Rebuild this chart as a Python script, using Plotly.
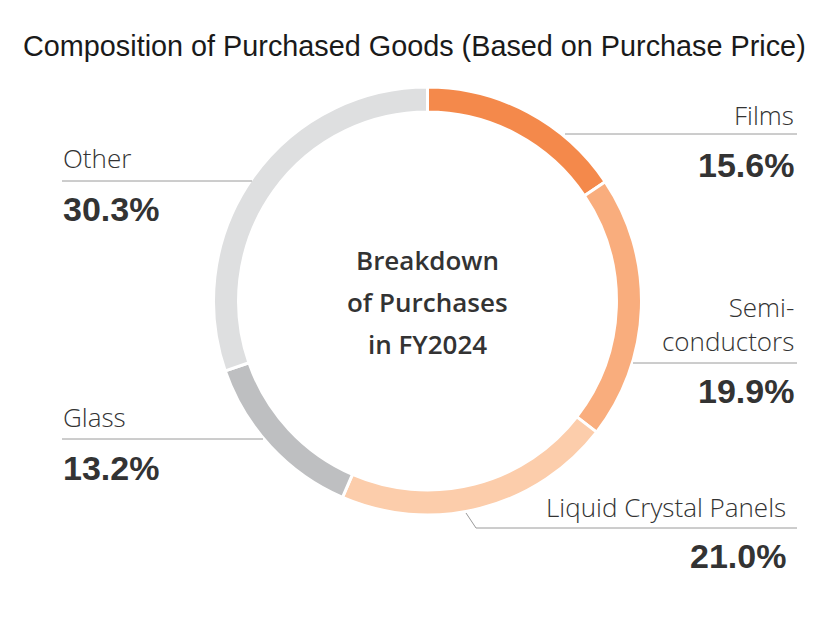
import plotly.graph_objects as go

# Purchase composition, FY2024 (clockwise from 12 o'clock)
categories = ["Films", "Semi-<br>conductors", "Liquid Crystal Panels", "Glass", "Other"]
shares = [15.6, 19.9, 21.0, 13.2, 30.3]
colors = ["#F4894B", "#F9AD7D", "#FCCDAB", "#BEBFC1", "#DEDFE0"]

title_text = "Composition of Purchased Goods (Based on Purchase Price)"
center_lines = ["Breakdown", "of Purchases", "in FY2024"]

# page body has an 8px margin, so the figure is a bit smaller than the window
PAD = 8
W, H = 835 - 2 * PAD, 617 - 2 * PAD


def px(x, y):
    # window pixel position -> paper coordinates
    return (x - PAD) / W, 1 - (y - PAD) / H


# ring geometry in window pixels
cx, cy, r = 427.5, 301, 214
dx0, _ = px(cx - r, 0)
dx1, _ = px(cx + r, 0)
_, dy0 = px(0, cy + r)
_, dy1 = px(0, cy - r)

fig = go.Figure(
    go.Pie(
        labels=categories,
        values=shares,
        sort=False,
        direction="clockwise",
        rotation=0,
        hole=0.883,
        marker=dict(colors=colors, line=dict(color="white", width=3)),
        textinfo="none",
        hoverinfo="label+percent",
        domain=dict(x=[dx0, dx1], y=[dy0, dy1]),
        showlegend=False,
    )
)

label_font = dict(family="Open Sans", size=26, color="#333333", weight=300)
value_font = dict(family="Liberation Sans", size=34, color="#333333", weight="bold")

# label placement: (name y, value y, x, anchor)
placements = [
    (115, 165, 796, "right"),
    (324, 391, 796, "right"),
    (507, 556, 788, "right"),
    (417, 468, 61, "left"),
    (158, 209, 61, "left"),
]

annotations = []
for name, val, (ny, vy, x, anc) in zip(categories, shares, placements):
    ax, ay = px(x, ny)
    annotations.append(dict(x=ax, y=ay, xref="paper", yref="paper", text=name,
                            showarrow=False, xanchor=anc, yanchor="middle",
                            align=anc, font=label_font))
    ax, ay = px(x, vy)
    annotations.append(dict(x=ax, y=ay, xref="paper", yref="paper", text=f"{val:.1f}%",
                            showarrow=False, xanchor=anc, yanchor="middle",
                            font=value_font))

for i, line in enumerate(center_lines):
    ax, ay = px(cx, 260 + i * 42)
    annotations.append(dict(x=ax, y=ay, xref="paper", yref="paper", text=line,
                            showarrow=False, xanchor="center", yanchor="middle",
                            font=dict(family="Open Sans", size=26, color="#333333",
                                      weight=600)))

tx, ty = px(21, 46)
annotations.append(dict(x=tx, y=ty, xref="paper", yref="paper", text=title_text,
                        showarrow=False, xanchor="left", yanchor="middle",
                        font=dict(family="Liberation Sans", size=28.8, color="#1a1a1a")))

# leader lines
leaders = [
    [(565, 134), (797, 134)],
    [(633, 363), (797, 363)],
    [(466, 513), (476, 528), (797, 528)],
    [(62, 439), (263, 439)],
    [(62, 181), (252, 181)],
]
shapes = []
for pts in leaders:
    for (x0, y0), (x1, y1) in zip(pts[:-1], pts[1:]):
        a0, b0 = px(x0, y0)
        a1, b1 = px(x1, y1)
        shapes.append(dict(type="line", xref="paper", yref="paper",
                           x0=a0, y0=b0, x1=a1, y1=b1,
                           line=dict(color="#9a9a9a", width=1)))

fig.update_layout(
    width=W,
    height=H,
    margin=dict(l=0, r=0, t=0, b=0),
    paper_bgcolor="white",
    plot_bgcolor="white",
    annotations=annotations,
    shapes=shapes,
)

fig.write_html("out.html")
